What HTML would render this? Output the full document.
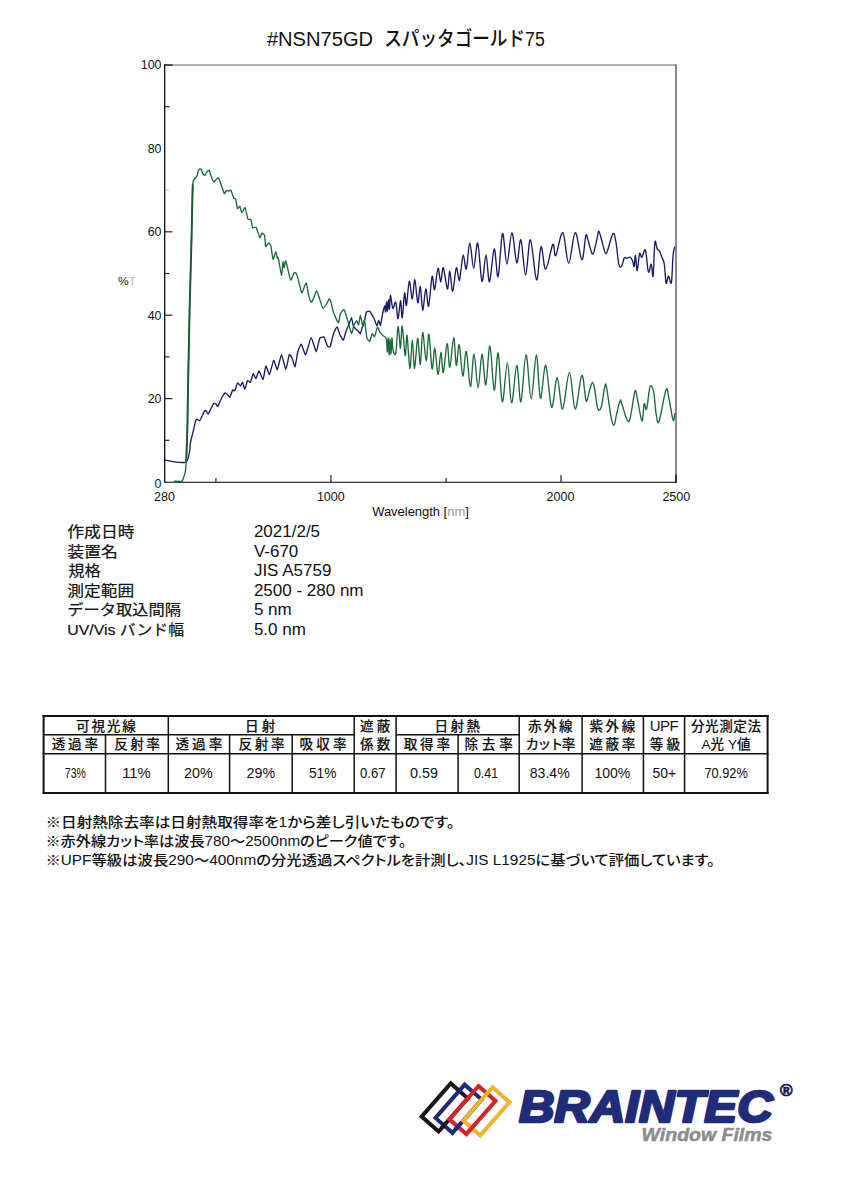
<!DOCTYPE html>
<html><head><meta charset="utf-8"><title>NSN75GD</title>
<style>
html,body{margin:0;padding:0;background:#fff;}
body{width:848px;height:1200px;overflow:hidden;}
svg{display:block;}
text{fill:#111;}
</style></head><body>
<svg width="848" height="1200" viewBox="0 0 848 1200" font-family='"Liberation Sans", Arial, sans-serif'>
<text x="266.9" y="46" font-size="20"  textLength="106.2" lengthAdjust="spacingAndGlyphs">#NSN75GD</text>
<text x="384.2" y="46" font-size="20" font-family='"Liberation Sans", "Noto Sans CJK JP", "IPAGothic", sans-serif' font-weight="500" textLength="160.5" lengthAdjust="spacingAndGlyphs">スパッタゴールド<tspan font-weight="normal">75</tspan></text>
<line x1="164.5" y1="65" x2="676" y2="65" stroke="#9a9a9a" stroke-width="1.6"/>
<line x1="676" y1="64.2" x2="676" y2="482.5" stroke="#6c6c6c" stroke-width="1.6"/>
<line x1="164.7" y1="64.2" x2="164.7" y2="482.8" stroke="#000" stroke-width="1.25"/>
<line x1="164.1" y1="482.3" x2="676.8" y2="482.3" stroke="#000" stroke-width="1.1"/>
<line x1="676" y1="474.5" x2="676" y2="482.5" stroke="#111" stroke-width="1.4"/>
<line x1="165" y1="65" x2="172.5" y2="65" stroke="#222" stroke-width="1.4"/>
<text x="161.5" y="488" font-size="12.4" text-anchor="end">0</text>
<line x1="165" y1="440.3" x2="169.5" y2="440.3" stroke="#222" stroke-width="1.2"/>
<text x="161.5" y="403" font-size="12.4" text-anchor="end">20</text>
<line x1="165" y1="398.6" x2="172.5" y2="398.6" stroke="#222" stroke-width="1.2"/>
<line x1="165" y1="356.9" x2="169.5" y2="356.9" stroke="#222" stroke-width="1.2"/>
<text x="161.5" y="319.6" font-size="12.4" text-anchor="end">40</text>
<line x1="165" y1="315.2" x2="172.5" y2="315.2" stroke="#222" stroke-width="1.2"/>
<line x1="165" y1="273.5" x2="169.5" y2="273.5" stroke="#222" stroke-width="1.2"/>
<text x="161.5" y="236.2" font-size="12.4" text-anchor="end">60</text>
<line x1="165" y1="231.8" x2="172.5" y2="231.8" stroke="#222" stroke-width="1.2"/>
<line x1="165" y1="190.1" x2="169" y2="190.1" stroke="#bbb" stroke-width="1"/>
<text x="161.5" y="152.8" font-size="12.4" text-anchor="end">80</text>
<line x1="165" y1="106.7" x2="169.5" y2="106.7" stroke="#222" stroke-width="1.2"/>
<text x="161.5" y="69.4" font-size="12.4" text-anchor="end">100</text>
<line x1="215.91" y1="482" x2="215.91" y2="478" stroke="#222" stroke-width="1.2"/>
<line x1="330.93" y1="482" x2="330.93" y2="475" stroke="#222" stroke-width="1.2"/>
<line x1="445.95" y1="482" x2="445.95" y2="478" stroke="#222" stroke-width="1.2"/>
<line x1="560.98" y1="482" x2="560.98" y2="475" stroke="#222" stroke-width="1.2"/>
<text x="164.5" y="500.7" font-size="12.5" text-anchor="middle">280</text>
<text x="330.8" y="500.7" font-size="12.5" text-anchor="middle">1000</text>
<text x="560.5" y="500.7" font-size="12.5" text-anchor="middle">2000</text>
<text x="676.3" y="500.7" font-size="12.5" text-anchor="middle">2500</text>
<text x="372.2" y="516" font-size="12.5" textLength="96.6" lengthAdjust="spacingAndGlyphs">Wavelength [<tspan style="fill:#9a9a9a">nm</tspan>]</text>
<text x="118" y="285" font-size="11" textLength="18" lengthAdjust="spacingAndGlyphs"><tspan style="fill:#1a1a1a">%</tspan><tspan style="fill:#bdb5a5">T</tspan></text>
<path d="M164.7,459.9C165.41,460.04 172.64,461.62 174.2,461.8C175.76,461.98 184.48,462.48 185.5,462.3C186.52,462.12 187.46,460.4 187.8,459.4C188.14,458.4 189.82,450.13 190,449C190.18,447.87 190.08,445.15 190.2,444.3C190.32,443.45 191.35,438.76 191.6,437.7C191.85,436.64 193.25,431.26 193.5,430.2C193.75,429.14 194.73,424.34 194.9,423.6C195.07,422.86 195.62,420.62 195.8,420.3C195.98,419.98 197.02,419.26 197.3,419.3C197.59,419.34 199.28,420.94 199.6,420.8C199.91,420.67 201.15,418.21 201.5,417.5C201.85,416.79 203.95,411.8 204.3,411.3C204.65,410.8 205.91,410.58 206.2,410.8C206.48,411.02 207.81,414.23 208.1,414.2C208.38,414.17 209.57,411.22 210,410.4C210.43,409.58 213.34,403.76 213.8,403.3C214.26,402.84 215.8,403.97 216.1,404.2C216.4,404.43 217.4,406.73 217.8,406.3C218.2,405.87 220.87,399.5 221.4,398.5C221.93,397.5 224.43,393.16 224.9,392.9C225.37,392.64 227.32,394.69 227.7,395C228.07,395.31 229.53,397.48 229.9,397.1C230.28,396.73 232.33,390.47 232.7,390C233.07,389.53 234.43,391.32 234.8,390.8C235.17,390.28 237.17,383.38 237.6,383C238.03,382.62 240.12,385.85 240.5,385.8C240.88,385.75 242.28,382.04 242.6,382.3C242.91,382.56 244.33,389.41 244.7,389.3C245.07,389.19 247.07,381.32 247.5,380.8C247.93,380.28 249.97,382.82 250.4,382.3C250.83,381.78 252.78,374.07 253.2,373.8C253.62,373.53 255.57,378.92 256,378.7C256.43,378.48 258.37,370.85 258.9,370.9C259.43,370.95 262.58,379.77 263.1,379.4C263.62,379.03 265.42,366.37 265.9,366C266.38,365.63 268.92,374.93 269.5,374.5C270.08,374.07 273.12,360.68 273.7,360.3C274.28,359.93 276.72,369.92 277.3,369.5C277.88,369.08 280.86,354.7 281.5,354.7C282.14,354.7 285.22,369.5 285.8,369.5C286.38,369.5 288.83,355.55 289.3,354.7C289.77,353.85 291.67,357.3 292.1,358.2C292.53,359.1 294.57,367.18 295,366.7C295.43,366.22 297.33,353.5 297.8,351.8C298.27,350.11 300.72,343.88 301.3,344.1C301.88,344.32 304.86,355.18 305.6,354.7C306.34,354.22 310.4,337.92 311.2,337.7C312,337.48 315.56,351.75 316.2,351.8C316.84,351.85 319.12,339.51 319.7,338.4C320.28,337.29 323.42,336.43 324,337C324.58,337.57 326.93,345.28 327.4,346C327.87,346.72 329.9,347.31 330.3,346.6C330.7,345.9 332.3,337.93 332.7,336.6C333.1,335.27 335.25,329.6 335.6,328.9C335.95,328.19 337.09,326.8 337.4,327.2C337.71,327.6 339.26,333.23 339.7,334.2C340.14,335.17 342.81,340.36 343.3,340.1C343.79,339.84 345.8,331.8 346.2,330.7C346.6,329.6 348.2,326.38 348.6,325.4C349,324.42 351.15,317.65 351.5,317.7C351.85,317.75 352.94,325.12 353.3,326C353.66,326.88 355.95,329.15 356.3,329.5C356.65,329.85 357.69,330.38 358,330.7C358.31,331.01 360.09,333.92 360.4,333.7C360.71,333.48 361.84,328.56 362.1,327.8C362.36,327.04 363.58,324.76 363.9,323.6C364.21,322.44 365.86,313.32 366.3,312.4C366.74,311.48 369.36,311.07 369.8,311.3C370.24,311.53 371.85,314.78 372.2,315.4C372.55,316.01 374.15,318.7 374.5,319.5C374.85,320.3 376.58,325.95 376.9,326C377.21,326.05 378.44,320.15 378.7,320.1C378.96,320.06 380.09,325.93 380.4,325.4C380.71,324.87 382.49,314.46 382.8,313C383.12,311.54 384.39,305.97 384.6,305.9C385.07,305.73 385.28,312.65 385.6,312C385.92,311.35 386.18,302.17 386.5,302C386.82,301.83 387.17,311.33 387.5,311C387.83,310.67 388.17,300.33 388.5,300C388.83,299.67 389.18,309.78 389.5,309C389.82,308.22 389.85,295.42 390.4,295.3C390.95,295.18 391.9,307.12 392.8,308.3C393.7,309.48 394.92,300.63 395.8,302.4C396.68,304.17 397.32,319.2 398.1,318.9C398.88,318.6 399.82,300.8 400.5,300.6C401.18,300.4 401.52,318.97 402.2,317.7C402.88,316.43 403.9,295.05 404.6,293C405.3,290.95 405.62,307.37 406.4,305.4C407.18,303.43 408.32,282.28 409.3,281.2C410.28,280.12 411.38,299.13 412.3,298.9C413.22,298.67 413.88,279.15 414.8,279.8C415.72,280.45 416.88,301.67 417.8,302.8C418.72,303.93 419.48,285.37 420.3,286.6C421.12,287.83 421.78,309.8 422.7,310.2C423.62,310.6 424.82,289.68 425.8,289C426.78,288.32 427.55,308.17 428.6,306.1C429.65,304.03 431.12,279.35 432.1,276.6C433.08,273.85 433.52,290.98 434.5,289.6C435.48,288.22 436.97,269.58 438,268.3C439.03,267.02 439.82,281.98 440.7,281.9C441.58,281.82 442.18,266.62 443.3,267.8C444.42,268.98 446.32,288.42 447.4,289C448.48,289.58 448.92,270.92 449.8,271.3C450.68,271.68 451.62,291.88 452.7,291.3C453.78,290.72 455.22,269.57 456.3,267.8C457.38,266.03 458.42,280.42 459.2,280.7C459.98,280.98 460.32,273.82 461,269.5C461.68,265.18 462.42,254.9 463.3,254.8C464.18,254.7 465.22,270.87 466.3,268.9C467.38,266.93 468.57,243.1 469.8,243C471.03,242.9 472.38,268.3 473.7,268.3C475.02,268.3 476.32,240.83 477.7,243C479.08,245.17 480.62,279.33 482,281.3C483.38,283.27 484.75,254.7 486,254.8C487.25,254.9 488.13,282.88 489.5,281.9C490.87,280.92 492.77,249.78 494.2,248.9C495.63,248.02 496.72,279.15 498.1,276.6C499.48,274.05 501.03,235.7 502.5,233.6C503.97,231.5 505.33,264.13 506.9,264C508.47,263.87 510.25,233 511.9,232.8C513.55,232.6 515.3,261.63 516.8,262.8C518.3,263.97 519.43,237.75 520.9,239.8C522.37,241.85 524.02,275.1 525.6,275.1C527.18,275.1 528.57,239 530.4,239.8C532.23,240.6 534.83,278.73 536.6,279.9C538.37,281.07 539.48,248.58 541,246.8C542.52,245.02 543.73,269.58 545.7,269.2C547.67,268.82 551.13,246.75 552.8,244.5C554.47,242.25 554.03,257.67 555.7,255.7C557.37,253.73 560.63,231.43 562.8,232.7C564.97,233.97 566.63,263.3 568.7,263.3C570.77,263.3 573,233.28 575.2,232.7C577.4,232.12 580.13,259.32 581.9,259.8C583.67,260.28 584.77,238.83 585.8,235.6C586.83,232.37 587.02,237.33 588.1,240.4C589.18,243.47 591.1,252.97 592.3,254C593.5,255.03 594.5,249.22 595.3,246.6C596.1,243.98 596.5,240.85 597.1,238.3C597.7,235.75 598.12,230.9 598.9,231.3C599.68,231.7 600.92,237.57 601.8,240.7C602.68,243.83 603.52,247.95 604.2,250.1C604.88,252.25 605.32,253.6 605.9,253.6C606.48,253.6 606.52,253.43 607.7,250.1C608.88,246.77 611.63,234.98 613,233.6C614.37,232.22 614.92,236.6 615.9,241.8C616.88,247 617.92,260.77 618.9,264.8C619.88,268.83 620.92,267.17 621.8,266C622.68,264.83 623.4,259.08 624.2,257.8C625,256.52 625.62,258.4 626.6,258.3C627.58,258.2 629.12,256.8 630.1,257.2C631.08,257.6 631.82,259.13 632.5,260.7C633.18,262.27 633.72,267.48 634.2,266.6C634.68,265.72 634.9,254.72 635.4,255.4C635.9,256.08 636.52,271 637.2,270.7C637.88,270.4 638.72,255.85 639.5,253.6C640.28,251.35 640.92,257.78 641.9,257.2C642.88,256.62 644.32,247.65 645.4,250.1C646.48,252.55 647.42,269.55 648.4,271.9C649.38,274.25 650.52,263.52 651.3,264.2C652.08,264.88 652.5,279.63 653.1,276C653.7,272.37 654.22,246.92 654.9,242.4C655.58,237.88 656.42,247.42 657.2,248.9C657.98,250.38 658.82,249.92 659.6,251.3C660.38,252.68 661.12,255.05 661.9,257.2C662.68,259.35 663.6,259.88 664.3,264.2C665,268.52 665.42,281.13 666.1,283.1C666.78,285.07 667.52,276.1 668.4,276C669.28,275.9 670.62,286.03 671.4,282.5C672.18,278.97 672.52,260.78 673.1,254.8C673.68,248.82 674.6,247.97 674.9,246.6" fill="none" stroke="#1a1a66" stroke-width="1.35" stroke-linejoin="round"/>
<path d="M174,481.2C174.6,481.2 181.25,481.56 182,481.2C182.75,480.84 183.74,477.18 184,476.4C184.26,475.62 185.34,471.93 185.5,470.8C185.66,469.67 186.09,463.42 186.2,461.3C186.3,459.18 186.81,444.98 186.9,442.5C186.99,440.02 187.33,431.49 187.4,428.3C187.47,425.11 187.64,408.95 187.8,400C187.97,391.05 189.32,321 189.6,309C189.88,297 191.27,249.34 191.5,240C191.73,230.66 192.47,189.08 192.7,184.5C192.93,179.92 194.28,179.54 194.6,178.9C194.92,178.26 196.72,176.64 197,176C197.28,175.36 198.19,170.93 198.4,170.4C198.61,169.88 199.59,169.07 199.8,169C200.01,168.93 200.99,169.09 201.2,169.4C201.41,169.72 202.34,172.73 202.6,173.2C202.86,173.66 204.45,175.56 204.7,175.6C204.95,175.64 205.7,174.02 205.9,173.7C206.1,173.38 207.15,171.55 207.4,171.3C207.65,171.05 208.88,169.94 209.2,170.4C209.51,170.87 211.24,176.62 211.6,177.5C211.96,178.38 213.69,182.03 214,182.2C214.31,182.37 215.46,180.12 215.8,179.8C216.14,179.48 218.07,177.47 218.5,177.9C218.93,178.33 221.06,184.33 221.5,185.5C221.94,186.67 223.95,193.11 224.3,193.5C224.65,193.89 225.85,190.88 226.2,190.7C226.55,190.52 228.65,191.14 229,191.1C229.35,191.06 230.54,189.67 230.9,190.2C231.26,190.73 233.44,197.52 233.8,198.2C234.16,198.88 235.42,198.42 235.7,199.2C235.98,199.98 237.19,208.07 237.5,208.6C237.81,209.12 239.58,205.88 239.9,206.2C240.22,206.51 241.41,212.7 241.8,212.8C242.19,212.91 244.64,207.13 245.1,207.6C245.56,208.06 247.47,218.12 247.9,219C248.33,219.88 250.52,219.09 250.8,219.4C251.09,219.72 251.56,222.56 251.7,223.2C251.83,223.84 252.27,227.59 252.6,227.9C252.93,228.22 255.56,226.68 256.1,227.4C256.64,228.12 259.37,237.06 259.8,237.5C260.24,237.94 261.54,233.46 261.9,233.3C262.26,233.14 264.32,234.41 264.6,235.4C264.88,236.39 265.29,245.94 265.6,246.5C265.92,247.06 268.4,242.84 268.8,242.8C269.2,242.76 270.58,244.76 270.9,246C271.21,247.24 272.64,258.87 273,259.3C273.36,259.74 275.38,251.88 275.7,251.8C276.02,251.72 277.11,257.72 277.3,258.2C277.5,258.68 277.99,256.93 278.3,258.2C278.62,259.47 281.14,274.92 281.5,275.2C281.86,275.48 282.9,262.45 283.1,261.9C283.3,261.34 284,267.88 284.2,267.8C284.4,267.73 285.32,259.98 285.8,260.9C286.28,261.81 289.96,279.13 290.6,280C291.24,280.87 293.83,272.9 294.3,272.5C294.77,272.1 296.34,273.19 296.9,274.7C297.45,276.21 301.1,291.9 301.7,292.7C302.3,293.5 304.54,286.01 304.9,285.3C305.26,284.59 306.22,282.49 306.5,283.2C306.78,283.91 308.24,293.37 308.6,294.8C308.96,296.23 310.9,302.1 311.3,302.3C311.7,302.5 313.5,298.38 313.9,297.5C314.3,296.62 316.17,290.48 316.6,290.6C317.04,290.72 319.23,297.79 319.7,299.1C320.17,300.41 322.37,307.76 322.9,308.1C323.43,308.44 326.33,304.29 326.8,303.6C327.27,302.91 328.79,299.03 329.1,298.9C329.41,298.76 330.58,300.83 330.9,301.8C331.21,302.77 332.86,310.43 333.3,311.8C333.74,313.17 336.4,319.3 336.8,320.1C337.2,320.9 338.34,322.94 338.6,322.5C338.86,322.06 339.9,315.18 340.3,314.2C340.7,313.22 343.46,309.41 343.9,309.5C344.34,309.59 345.85,314.34 346.2,315.4C346.55,316.46 348.2,322.23 348.6,323.6C349,324.97 351.1,333.56 351.5,333.7C351.9,333.83 353.5,326.38 353.9,325.4C354.3,324.42 356.45,320.75 356.8,320.7C357.15,320.65 358.33,325.2 358.6,324.8C358.87,324.4 360.09,315.31 360.4,315.4C360.71,315.49 362.39,325.65 362.7,326C363.01,326.35 364.19,319.22 364.5,320.1C364.81,320.99 366.5,336.21 366.9,337.8C367.3,339.39 369.4,341.61 369.8,341.3C370.2,340.99 371.85,334.05 372.2,333.7C372.55,333.35 374.1,337.09 374.5,336.6C374.9,336.11 377.1,327.55 377.5,327.2C377.9,326.85 379.4,331.28 379.8,331.9C380.2,332.51 382.31,334.87 382.8,335.4C383.88,336.58 385.55,336.23 386.3,339C387.05,341.77 386.98,352.17 387.3,352C387.62,351.83 387.9,337.5 388.2,338C388.5,338.5 388.8,354.83 389.1,355C389.4,355.17 389.68,339.17 390,339C390.32,338.83 390.67,354.17 391,354C391.33,353.83 391.67,338.67 392,338C392.33,337.33 392.37,347.48 393,350C393.63,352.52 394.95,357 395.8,353.1C396.65,349.2 397.32,327.38 398.1,326.6C398.88,325.82 399.82,348.5 400.5,348.4C401.18,348.3 401.42,324.82 402.2,326C402.98,327.18 404.4,353.93 405.2,355.5C406,357.07 406.22,333.25 407,335.4C407.78,337.55 409.02,367.62 409.9,368.4C410.78,369.18 411.52,340.1 412.3,340.1C413.08,340.1 413.72,368.7 414.6,368.4C415.48,368.1 416.65,339 417.6,338.3C418.55,337.6 419.45,365.18 420.3,364.2C421.15,363.22 421.72,332.98 422.7,332.4C423.68,331.82 425.17,360.4 426.2,360.7C427.23,361 427.92,332.82 428.9,334.2C429.88,335.58 431.12,366.65 432.1,369C433.08,371.35 433.82,347.42 434.8,348.3C435.78,349.18 436.98,373.6 438,374.3C439.02,375 440.02,352.8 440.9,352.5C441.78,352.2 442.27,373.98 443.3,372.5C444.33,371.02 446.02,344.48 447.1,343.6C448.18,342.72 448.7,368.18 449.8,367.2C450.9,366.22 452.62,338 453.7,337.7C454.78,337.4 455.38,364.22 456.3,365.4C457.22,366.58 458.12,343.03 459.2,344.8C460.28,346.57 461.62,374.92 462.8,376C463.98,377.08 465.03,349.52 466.3,351.3C467.57,353.08 469.12,386.22 470.4,386.7C471.68,387.18 472.72,354.02 474,354.2C475.28,354.38 476.77,387.8 478.1,387.8C479.43,387.8 480.72,354.68 482,354.2C483.28,353.72 484.48,386.27 485.8,384.9C487.12,383.53 488.5,345.12 489.9,346C491.3,346.88 492.83,389.03 494.2,390.2C495.57,391.37 496.75,351.03 498.1,353C499.45,354.97 500.75,400.37 502.3,402C503.85,403.63 505.85,362.67 507.4,362.8C508.95,362.93 510.03,402.37 511.6,402.8C513.17,403.23 515.25,365.55 516.8,365.4C518.35,365.25 519.37,403.67 520.9,401.9C522.43,400.13 524.28,355.28 526,354.8C527.72,354.32 529.48,399 531.2,399C532.92,399 534.77,354.9 536.3,354.8C537.83,354.7 538.83,396.63 540.4,398.4C541.97,400.17 543.83,363.93 545.7,365.4C547.57,366.87 549.68,405.13 551.6,407.2C553.52,409.27 555.37,377.5 557.2,377.8C559.03,378.1 560.57,409.9 562.6,409C564.63,408.1 567.3,372.4 569.4,372.4C571.5,372.4 573.15,408.5 575.2,409C577.25,409.5 579.93,376.97 581.7,375.4C583.47,373.83 584.83,395.67 585.8,399.6C586.77,403.53 586.82,400.77 587.5,399C588.18,397.23 589.05,391.75 589.9,389C590.75,386.25 591.8,382.42 592.6,382.5C593.4,382.58 593.85,385.18 594.7,389.5C595.55,393.82 596.62,405.45 597.7,408.4C598.78,411.35 600.03,410.73 601.2,407.2C602.37,403.67 603.82,390.53 604.7,387.2C605.58,383.87 605.42,382.1 606.5,387.2C607.58,392.3 609.92,411.52 611.2,417.8C612.48,424.08 613.32,425.48 614.2,424.9C615.08,424.32 615.52,418.33 616.5,414.3C617.48,410.27 619.22,402.47 620.1,400.7C620.98,398.93 620.33,400.25 621.8,403.7C623.27,407.15 626.73,423.37 628.9,421.4C631.07,419.43 633.42,395.83 634.8,391.9C636.18,387.97 636.02,392.98 637.2,397.8C638.38,402.62 640.73,419.82 641.9,420.8C643.07,421.78 643.42,405.67 644.2,403.7C644.98,401.73 645.62,411.85 646.6,409C647.58,406.15 648.92,389.45 650.1,386.6C651.28,383.75 652.72,387.48 653.7,391.9C654.68,396.32 655.12,408.18 656,413.1C656.88,418.02 657.32,425.33 659,421.4C660.68,417.47 664.43,393.23 666.1,389.5C667.77,385.77 667.83,393.88 669,399C670.17,404.12 672.12,417.85 673.1,420.2C674.08,422.55 674.6,414.28 674.9,413.1" fill="none" stroke="#1b6a3a" stroke-width="1.35" stroke-linejoin="round"/>
<path d="M186.2,461.3 L186.9,442.5 L187.4,428.3 L187.8,400 L189.6,309 L191.5,240 L192.7,184.5" fill="none" stroke="#1b5a34" stroke-width="1.9"/>
<text x="67.3" y="537.1" font-size="15.2" font-family='"Liberation Sans", "Noto Sans CJK JP", "IPAGothic", sans-serif' font-weight="normal" style="stroke:#111;stroke-width:0.2" textLength="67.2" lengthAdjust="spacingAndGlyphs">作成日時</text>
<text x="253.9" y="537.3" font-size="17">2021/2/5</text>
<text x="67.3" y="557.1" font-size="15.2" font-family='"Liberation Sans", "Noto Sans CJK JP", "IPAGothic", sans-serif' font-weight="normal" style="stroke:#111;stroke-width:0.2" textLength="50.6" lengthAdjust="spacingAndGlyphs">装置名</text>
<text x="253.9" y="557.3" font-size="17">V-670</text>
<text x="68.3" y="576.2" font-size="15.2" font-family='"Liberation Sans", "Noto Sans CJK JP", "IPAGothic", sans-serif' font-weight="normal" style="stroke:#111;stroke-width:0.2" textLength="32.5" lengthAdjust="spacingAndGlyphs">規格</text>
<text x="253.9" y="576.4" font-size="17">JIS A5759</text>
<text x="67.3" y="595.7" font-size="15.2" font-family='"Liberation Sans", "Noto Sans CJK JP", "IPAGothic", sans-serif' font-weight="normal" style="stroke:#111;stroke-width:0.2" textLength="66.8" lengthAdjust="spacingAndGlyphs">測定範囲</text>
<text x="253.9" y="595.9" font-size="17">2500 - 280 nm</text>
<text x="67.3" y="614.8" font-size="15.2" font-family='"Liberation Sans", "Noto Sans CJK JP", "IPAGothic", sans-serif' font-weight="normal" style="stroke:#111;stroke-width:0.2" textLength="113.8" lengthAdjust="spacingAndGlyphs">データ取込間隔</text>
<text x="253.9" y="615" font-size="17">5 nm</text>
<text x="67.3" y="634.5" font-size="15.2" font-family='"Liberation Sans", "Noto Sans CJK JP", "IPAGothic", sans-serif' font-weight="normal" style="stroke:#111;stroke-width:0.2" textLength="116.7" lengthAdjust="spacingAndGlyphs">UV/Vis バンド幅</text>
<text x="253.9" y="634.7" font-size="17">5.0 nm</text>
<line x1="43.6" y1="715" x2="43.6" y2="794" stroke="#111" stroke-width="2"/>
<line x1="168.3" y1="715" x2="168.3" y2="794" stroke="#111" stroke-width="1.5"/>
<line x1="354.2" y1="715" x2="354.2" y2="794" stroke="#111" stroke-width="1.5"/>
<line x1="396.1" y1="715" x2="396.1" y2="794" stroke="#111" stroke-width="1.5"/>
<line x1="519.2" y1="715" x2="519.2" y2="794" stroke="#111" stroke-width="1.5"/>
<line x1="582.1" y1="715" x2="582.1" y2="794" stroke="#111" stroke-width="1.5"/>
<line x1="643.4" y1="715" x2="643.4" y2="794" stroke="#111" stroke-width="1.5"/>
<line x1="684.6" y1="715" x2="684.6" y2="794" stroke="#111" stroke-width="1.5"/>
<line x1="767.6" y1="715" x2="767.6" y2="794" stroke="#111" stroke-width="2"/>
<line x1="105.5" y1="734.8" x2="105.5" y2="793.5" stroke="#111" stroke-width="1.5"/>
<line x1="229.6" y1="734.8" x2="229.6" y2="793.5" stroke="#111" stroke-width="1.5"/>
<line x1="292.2" y1="734.8" x2="292.2" y2="793.5" stroke="#111" stroke-width="1.5"/>
<line x1="458.1" y1="734.8" x2="458.1" y2="793.5" stroke="#111" stroke-width="1.5"/>
<line x1="42.6" y1="716" x2="768.6" y2="716" stroke="#111" stroke-width="2"/>
<line x1="42.6" y1="792.9" x2="768.6" y2="792.9" stroke="#111" stroke-width="2"/>
<line x1="42.6" y1="753.8" x2="768.6" y2="753.8" stroke="#111" stroke-width="1.6"/>
<line x1="43.6" y1="734.8" x2="354.2" y2="734.8" stroke="#111" stroke-width="1.6"/>
<line x1="396.1" y1="734.8" x2="519.2" y2="734.8" stroke="#111" stroke-width="1.6"/>
<text x="76" y="730.8" font-size="13.6" font-family='"Liberation Sans", "Noto Sans CJK JP", "IPAGothic", sans-serif' font-weight="500" style="stroke:#111;stroke-width:0.1" textLength="59.9" lengthAdjust="spacing">可視光線</text>
<text x="244.9" y="730.8" font-size="13.6" font-family='"Liberation Sans", "Noto Sans CJK JP", "IPAGothic", sans-serif' font-weight="500" style="stroke:#111;stroke-width:0.1" textLength="30.5" lengthAdjust="spacing">日射</text>
<text x="434.4" y="730.8" font-size="13.6" font-family='"Liberation Sans", "Noto Sans CJK JP", "IPAGothic", sans-serif' font-weight="500" style="stroke:#111;stroke-width:0.1" textLength="45.7" lengthAdjust="spacing">日射熱</text>
<text x="360" y="730.8" font-size="13.6" font-family='"Liberation Sans", "Noto Sans CJK JP", "IPAGothic", sans-serif' font-weight="500" style="stroke:#111;stroke-width:0.1" textLength="30.3" lengthAdjust="spacing">遮蔽</text>
<text x="360" y="749" font-size="13.6" font-family='"Liberation Sans", "Noto Sans CJK JP", "IPAGothic", sans-serif' font-weight="500" style="stroke:#111;stroke-width:0.1" textLength="30.3" lengthAdjust="spacing">係数</text>
<text x="528" y="730.8" font-size="13.6" font-family='"Liberation Sans", "Noto Sans CJK JP", "IPAGothic", sans-serif' font-weight="500" style="stroke:#111;stroke-width:0.1" textLength="44.7" lengthAdjust="spacing">赤外線</text>
<text x="525.5" y="749" font-size="13.6" font-family='"Liberation Sans", "Noto Sans CJK JP", "IPAGothic", sans-serif' font-weight="500" style="stroke:#111;stroke-width:0.1" textLength="49.8" lengthAdjust="spacing">カット率</text>
<text x="589.5" y="730.8" font-size="13.6" font-family='"Liberation Sans", "Noto Sans CJK JP", "IPAGothic", sans-serif' font-weight="500" style="stroke:#111;stroke-width:0.1" textLength="45.8" lengthAdjust="spacing">紫外線</text>
<text x="589.3" y="749" font-size="13.6" font-family='"Liberation Sans", "Noto Sans CJK JP", "IPAGothic", sans-serif' font-weight="500" style="stroke:#111;stroke-width:0.1" textLength="46" lengthAdjust="spacing">遮蔽率</text>
<text x="649.8" y="730.8" font-size="13.6" font-family='"Liberation Sans", "Noto Sans CJK JP", "IPAGothic", sans-serif' font-weight="500" style="stroke:#111;stroke-width:0.1" textLength="28.8" lengthAdjust="spacing"><tspan font-weight="normal" font-size="15" style="stroke:none">UPF</tspan></text>
<text x="649.8" y="749" font-size="13.6" font-family='"Liberation Sans", "Noto Sans CJK JP", "IPAGothic", sans-serif' font-weight="500" style="stroke:#111;stroke-width:0.1" textLength="30.3" lengthAdjust="spacing">等級</text>
<text x="690.9" y="730.8" font-size="13.6" font-family='"Liberation Sans", "Noto Sans CJK JP", "IPAGothic", sans-serif' font-weight="500" style="stroke:#111;stroke-width:0.1" textLength="70.2" lengthAdjust="spacing">分光測定法</text>
<text x="701.6" y="749" font-size="13.6" font-family='"Liberation Sans", "Noto Sans CJK JP", "IPAGothic", sans-serif' font-weight="500" style="stroke:#111;stroke-width:0.1" textLength="48.9" lengthAdjust="spacing"><tspan font-weight="normal" style="stroke:none">A</tspan>光 <tspan font-weight="normal" style="stroke:none">Y</tspan>値</text>
<text x="51.8" y="749" font-size="13.6" font-family='"Liberation Sans", "Noto Sans CJK JP", "IPAGothic", sans-serif' font-weight="500" style="stroke:#111;stroke-width:0.1" textLength="46.2" lengthAdjust="spacing">透過率</text>
<text x="114.2" y="749" font-size="13.6" font-family='"Liberation Sans", "Noto Sans CJK JP", "IPAGothic", sans-serif' font-weight="500" style="stroke:#111;stroke-width:0.1" textLength="45.6" lengthAdjust="spacing">反射率</text>
<text x="175.5" y="749" font-size="13.6" font-family='"Liberation Sans", "Noto Sans CJK JP", "IPAGothic", sans-serif' font-weight="500" style="stroke:#111;stroke-width:0.1" textLength="46.8" lengthAdjust="spacing">透過率</text>
<text x="238.5" y="749" font-size="13.6" font-family='"Liberation Sans", "Noto Sans CJK JP", "IPAGothic", sans-serif' font-weight="500" style="stroke:#111;stroke-width:0.1" textLength="46.1" lengthAdjust="spacing">反射率</text>
<text x="299.4" y="749" font-size="13.6" font-family='"Liberation Sans", "Noto Sans CJK JP", "IPAGothic", sans-serif' font-weight="500" style="stroke:#111;stroke-width:0.1" textLength="47.2" lengthAdjust="spacing">吸収率</text>
<text x="403.7" y="749" font-size="13.6" font-family='"Liberation Sans", "Noto Sans CJK JP", "IPAGothic", sans-serif' font-weight="500" style="stroke:#111;stroke-width:0.1" textLength="46.3" lengthAdjust="spacing">取得率</text>
<text x="464.5" y="749" font-size="13.6" font-family='"Liberation Sans", "Noto Sans CJK JP", "IPAGothic", sans-serif' font-weight="500" style="stroke:#111;stroke-width:0.1" textLength="48.3" lengthAdjust="spacing">除去率</text>
<text x="64.8" y="778" font-size="14.3"  textLength="21" lengthAdjust="spacingAndGlyphs">73%</text>
<text x="122.2" y="778" font-size="14.3"  textLength="28.5" lengthAdjust="spacingAndGlyphs">11%</text>
<text x="184.1" y="778" font-size="14.3"  textLength="28.6" lengthAdjust="spacingAndGlyphs">20%</text>
<text x="246.6" y="778" font-size="14.3"  textLength="28.5" lengthAdjust="spacingAndGlyphs">29%</text>
<text x="308.9" y="778" font-size="14.3"  textLength="27.5" lengthAdjust="spacingAndGlyphs">51%</text>
<text x="360" y="778" font-size="14.3"  textLength="25.6" lengthAdjust="spacingAndGlyphs">0.67</text>
<text x="410.1" y="778" font-size="14.3"  textLength="28" lengthAdjust="spacingAndGlyphs">0.59</text>
<text x="474" y="778" font-size="14.3"  textLength="24" lengthAdjust="spacingAndGlyphs">0.41</text>
<text x="529.8" y="778" font-size="14.3"  textLength="39.9" lengthAdjust="spacingAndGlyphs">83.4%</text>
<text x="594.5" y="778" font-size="14.3"  textLength="35.8" lengthAdjust="spacingAndGlyphs">100%</text>
<text x="652.4" y="778" font-size="14.3"  textLength="23.7" lengthAdjust="spacingAndGlyphs">50+</text>
<text x="704.4" y="778" font-size="14.3"  textLength="43.4" lengthAdjust="spacingAndGlyphs">70.92%</text>
<text x="45.4" y="827.3" font-size="14.2" font-family='"Liberation Sans", "Noto Sans CJK JP", "IPAGothic", sans-serif' font-weight="500" style="font-feature-settings:'palt'" textLength="409.2" lengthAdjust="spacingAndGlyphs">※日射熱除去率は日射熱取得率を1から差し引いたものです。</text>
<text x="45.4" y="846.3" font-size="14.2" font-family='"Liberation Sans", "Noto Sans CJK JP", "IPAGothic", sans-serif' font-weight="500" style="font-feature-settings:'palt'" textLength="361.1" lengthAdjust="spacingAndGlyphs">※赤外線カット率は波長780～2500nmのピーク値です。</text>
<text x="45.4" y="865.3" font-size="14.2" font-family='"Liberation Sans", "Noto Sans CJK JP", "IPAGothic", sans-serif' font-weight="500" style="font-feature-settings:'palt'" textLength="669.3" lengthAdjust="spacingAndGlyphs">※UPF等級は波長290～400nmの分光透過スペクトルを計測し、JIS L1925に基づいて評価しています。</text>
<path d="M421.6,1116.6 L450.77,1083.39 L467.75,1098.31 L438.58,1131.52 Z" fill="none" stroke="#1b1515" stroke-width="4" stroke-linejoin="miter"/>
<path d="M435.5,1117.9 L464.67,1084.69 L481.65,1099.61 L452.48,1132.82 Z" fill="none" stroke="#1d2880" stroke-width="4" stroke-linejoin="miter"/>
<path d="M449.4,1119.2 L478.57,1085.99 L495.55,1100.91 L466.38,1134.12 Z" fill="none" stroke="#d5232a" stroke-width="4" stroke-linejoin="miter"/>
<path d="M463.3,1120.5 L492.47,1087.29 L509.45,1102.21 L480.28,1135.42 Z" fill="none" stroke="#efb42c" stroke-width="4" stroke-linejoin="miter"/>
<line x1="446.76" y1="1122.2" x2="441.22" y2="1128.51" stroke="#1b1515" stroke-width="4"/>
<line x1="460.66" y1="1123.5" x2="455.12" y2="1129.81" stroke="#1d2880" stroke-width="4"/>
<line x1="474.56" y1="1124.8" x2="469.02" y2="1131.11" stroke="#d5232a" stroke-width="4"/>
<text x="518.9" y="1121.8" font-size="44" font-weight="bold" font-style="italic" style="fill:#202b7a;stroke:#202b7a;stroke-width:2.6;stroke-linejoin:round" textLength="253.7" lengthAdjust="spacingAndGlyphs">BRAINTEC</text>
<text x="780" y="1096.3" font-size="17" font-weight="bold" style="fill:#141a4a;stroke:#141a4a;stroke-width:0.7">®</text>
<text x="641.6" y="1140.7" font-size="17.5" font-weight="bold" font-style="italic" style="fill:#8d8d8d;stroke:#8d8d8d;stroke-width:0.5" textLength="130.8" lengthAdjust="spacingAndGlyphs">Window Films</text>
</svg>
</body></html>
